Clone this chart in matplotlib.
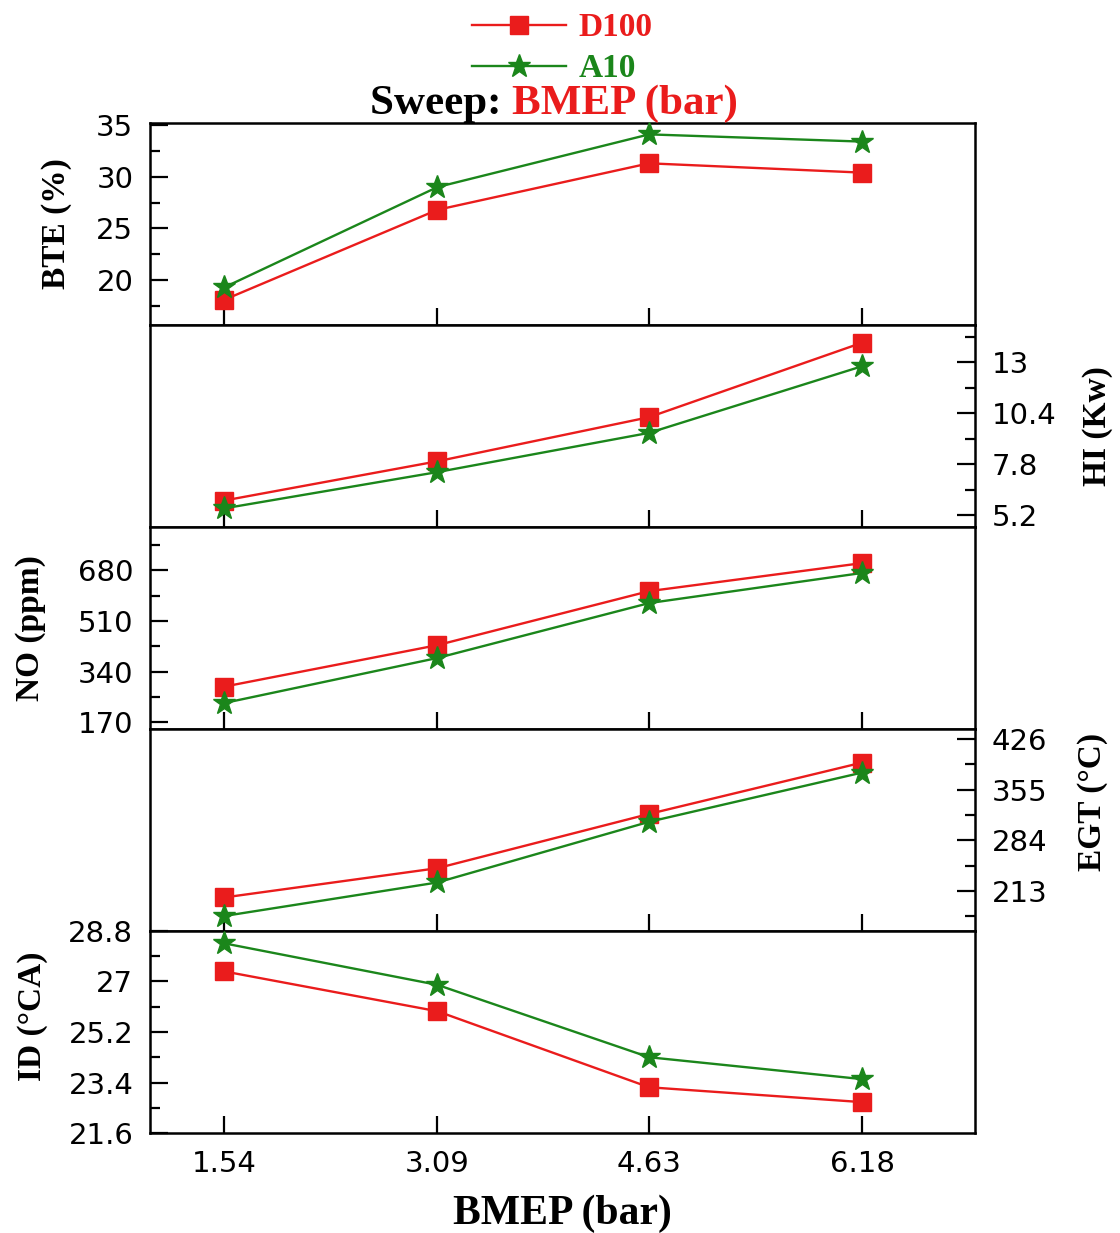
import matplotlib
matplotlib.use("Agg")
import matplotlib.pyplot as plt
from matplotlib.lines import Line2D
from matplotlib.ticker import FixedLocator, FuncFormatter

# ---- data ----
bmep = [1.54, 3.09, 4.63, 6.18]
series_names = ["D100", "A10"]

bte_d100 = [18.1, 26.8, 31.3, 30.4]
bte_a10 = [19.3, 29.0, 34.1, 33.4]

hi_d100 = [5.95, 7.95, 10.2, 14.0]
hi_a10 = [5.55, 7.4, 9.4, 12.8]

no_d100 = [290, 429, 610, 704]
no_a10 = [235, 386, 570, 671]

egt_d100 = [204, 245, 321, 393]
egt_a10 = [178, 225, 310, 379]

id_d100 = [27.36, 25.94, 23.23, 22.7]
id_a10 = [28.36, 26.88, 24.3, 23.52]

bte_ticks = [20, 25, 30, 35]
hi_ticks = [5.2, 7.8, 10.4, 13]
no_ticks = [170, 340, 510, 680]
egt_ticks = [213, 284, 355, 426]
id_ticks = [21.6, 23.4, 25.2, 27, 28.8]

# ---- style ----
RED = "#ea1c1c"
GREEN = "#1b861b"
SERIF = "Liberation Serif"
SANS = "DejaVu Sans"

fig = plt.figure(figsize=(11.2, 12.33), dpi=100)
left, right = 150 / 1120, 975 / 1120
top, bottom = 1 - 123 / 1233, 1 - 1133 / 1233
gs = fig.add_gridspec(5, 1, left=left, right=right, top=top, bottom=bottom, hspace=0)
axes = [fig.add_subplot(gs[i, 0]) for i in range(5)]
for a in axes[1:]:
    a.sharex(axes[0])

panels = [
    (bte_d100, bte_a10, bte_ticks, 2.5, (15.66, 35.2), "BTE (%)", "left", -0.113, 0.5),
    (hi_d100, hi_a10, hi_ticks, 1.3, (4.6, 14.9), "HI (Kw)", "right", 1.149, 0.5),
    (no_d100, no_a10, no_ticks, 85, (148, 825), "NO (ppm)", "left", -0.145, 0.5),
    (egt_d100, egt_a10, egt_ticks, 35.5, (157, 440), "EGT (\u00b0C)", "right", 1.143, 0.64),
    (id_d100, id_a10, id_ticks, 0.9, (21.6, 28.8), "ID (\u00b0CA)", "left", -0.143, 0.58),
]

fmt = FuncFormatter(lambda v, p: f"{round(v, 2):g}")

for ax, (d, a, ticks, minor_step, ylim, label, side, lx, ly) in zip(axes, panels):
    ax.plot(bmep, d, color=RED, lw=1.7, marker="s", ms=13, clip_on=False, zorder=3)
    ax.plot(bmep, a, color=GREEN, lw=1.7, marker="*", ms=17, clip_on=False, zorder=4)
    ax.set_ylim(*ylim)
    ax.yaxis.set_major_locator(FixedLocator(ticks))
    minors = []
    v = ticks[0] - minor_step
    while v <= ylim[1]:
        if v >= ylim[0]:
            minors.append(v)
        v += 2 * minor_step
    ax.yaxis.set_minor_locator(FixedLocator(minors))
    ax.yaxis.set_major_formatter(fmt)
    for s in ax.spines.values():
        s.set_linewidth(1.8)
    on_left = side == "left"
    ax.tick_params(axis="y", which="both", direction="in", width=1.6,
                   left=on_left, right=not on_left,
                   labelleft=on_left, labelright=not on_left,
                   labelsize=21, pad=12)
    ax.tick_params(axis="y", which="major", length=13)
    ax.tick_params(axis="y", which="minor", length=7)
    ax.tick_params(axis="x", which="both", direction="in", length=12, width=1.6,
                   top=False, bottom=True, labelbottom=False, labelsize=21, pad=12)
    for t in ax.get_yticklabels():
        t.set_fontfamily(SANS)
    if not on_left:
        ax.yaxis.set_label_position("right")
    ax.set_ylabel(label, fontsize=24, fontweight="bold", family=SERIF, rotation=90,
                  va="center", ha="center")
    ax.yaxis.set_label_coords(lx, ly)

axes[0].set_xlim(1.0, 7.0)
axes[0].xaxis.set_major_locator(FixedLocator(bmep))
axes[-1].tick_params(axis="x", labelbottom=True)
for t in axes[-1].get_xticklabels():
    t.set_fontfamily(SANS)
axes[-1].set_xlabel("BMEP (bar)", fontsize=30, fontweight="bold", family=SERIF, labelpad=12)

# legend
handles = [
    Line2D([], [], color=RED, lw=1.7, marker="s", ms=13),
    Line2D([], [], color=GREEN, lw=1.7, marker="*", ms=17),
]
fig.legend(handles, series_names, loc="upper center", bbox_to_anchor=(0.502, 1.009),
           frameon=False, prop={"family": SERIF, "weight": "bold", "size": 24},
           labelcolor=[RED, GREEN], handlelength=2.8, handletextpad=0.38,
           labelspacing=0.3, borderpad=0.2)

t1 = fig.text(370 / 1120, 1 - 104 / 1233, "Sweep: ", fontsize=31, fontweight="bold",
              family=SERIF, color="black", ha="left", va="center")
axes[0].annotate("BMEP (bar)", xy=(1, 0), xycoords=t1, fontsize=31,
                 fontweight="bold", family=SERIF, color=RED,
                 ha="left", va="bottom", annotation_clip=False)

fig.savefig("out.png", dpi=100)
